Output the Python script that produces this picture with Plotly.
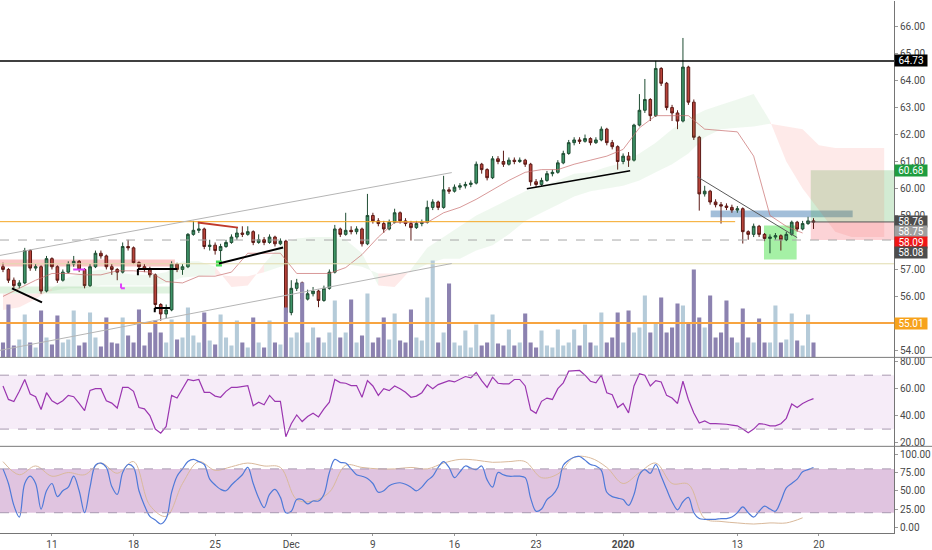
import plotly.graph_objects as go

# bars: 3 per trading session, index based x axis
close = [
    57.0, 56.6, 56.4, 56.5, 57.7, 57.05, 57.1, 56.2, 57.4,
    57.1, 56.6, 56.9, 57.2, 57.3, 57.0, 56.4, 57.1, 57.6,
    57.5, 57.1, 57.0, 56.9, 57.85, 57.8, 57.25, 57.1, 57.0,
    56.8, 55.7, 55.35, 55.5, 57.2, 57.0, 57.1, 58.3, 58.45,
    58.5, 57.85, 57.9, 57.7, 57.85, 58.0, 58.2, 58.35, 58.3,
    58.4, 58.0, 58.1, 58.0, 58.2, 57.95, 58.05, 55.4, 56.3,
    56.5, 55.9, 56.1, 56.2, 55.85, 56.3, 56.9, 58.5, 58.3,
    58.45, 58.4, 58.5, 57.95, 59.0, 58.8, 58.7, 58.5, 58.75,
    59.1, 58.8, 58.7, 58.55, 58.7, 58.75, 59.3, 59.5, 59.3,
    59.95, 59.9, 60.05, 60.1, 60.15, 60.2, 60.9, 60.7, 60.4,
    61.1, 61.0, 60.9, 61.05, 61.0, 61.05, 60.9, 60.25, 60.15,
    60.3, 60.55, 60.6, 60.95, 61.3, 61.7, 61.8, 61.75, 61.85,
    61.7, 61.8, 62.2, 61.7, 61.55, 61.0, 61.2, 61.05, 62.35,
    62.9, 63.3, 62.7, 64.45, 63.9, 63.0, 62.8, 62.5, 64.5,
    63.2, 61.9, 59.8, 59.9, 59.5, 59.4, 59.35, 59.3, 59.2,
    59.25, 58.4, 58.3, 58.6, 58.3, 58.15, 58.2, 58.25, 58.1,
    58.3, 58.75, 58.5, 58.7, 58.8, 58.76,
]
high = [
    57.25, 57.05, 56.7, 56.6, 57.8, 57.75, 57.2, 57.15, 57.5,
    57.45, 57.15, 57.0, 57.3, 57.5, 57.35, 57.05, 57.2, 57.7,
    57.7, 57.55, 57.2, 57.05, 58.0, 58.1, 57.85, 57.3, 57.2,
    57.1, 56.85, 55.75, 55.7, 57.3, 57.25, 57.2, 58.35, 58.8,
    58.75, 58.55, 58.1, 58.0, 57.95, 58.1, 58.3, 58.55, 58.6,
    58.6, 58.45, 58.3, 58.2, 58.3, 58.25, 58.15, 58.1, 56.6,
    56.65, 56.55, 56.25, 56.35, 56.25, 56.4, 57.0, 58.65, 58.55,
    59.1, 58.6, 58.6, 58.55, 59.8, 59.1, 58.9, 58.8, 58.85,
    59.25, 59.15, 58.9, 58.8, 58.8, 58.85, 59.55, 59.6, 59.55,
    60.47, 60.05, 60.15, 60.2, 60.25, 60.3, 61.0, 60.95, 60.75,
    61.2, 61.2, 61.4, 61.15, 61.15, 61.15, 61.1, 60.95, 60.35,
    60.4, 60.65, 60.7, 61.05, 61.4, 61.8, 61.9, 61.9, 62.0,
    61.9, 61.9, 62.3, 62.25, 61.8, 61.6, 61.3, 61.35, 62.4,
    63.5, 64.06, 63.35, 64.73, 64.5, 63.95, 63.1, 62.9, 65.58,
    64.55, 63.3, 61.95, 60.1, 59.95, 59.6, 59.5, 59.45, 59.4,
    59.35, 59.3, 58.45, 58.7, 58.65, 58.35, 58.3, 58.35, 58.3,
    58.4, 58.81, 58.8, 58.8, 58.95, 58.9,
]
low = [
    56.9, 56.5, 56.3, 56.3, 56.45, 56.95, 56.95, 56.1, 56.15,
    57.0, 56.5, 56.55, 56.85, 57.1, 56.9, 56.3, 56.35, 57.05,
    57.4, 57.0, 56.8, 56.6, 56.85, 57.7, 57.2, 57.0, 56.9,
    56.7, 55.5, 55.1, 55.2, 55.45, 56.9, 56.8, 57.05, 58.25,
    58.35, 57.75, 57.7, 57.55, 57.27, 57.8, 57.95, 58.1, 58.2,
    58.25, 57.9, 57.95, 57.9, 57.95, 57.85, 57.9, 55.2, 55.3,
    56.2, 55.8, 55.85, 56.0, 55.6, 55.8, 56.25, 56.85, 58.2,
    58.25, 58.3, 58.3, 57.85, 57.9, 58.7, 58.6, 58.35, 58.45,
    58.7, 58.7, 58.6, 58.07, 58.5, 58.6, 58.7, 59.2, 59.2,
    59.25, 59.8, 59.85, 59.95, 60.0, 60.05, 60.15, 60.55, 60.3,
    60.35, 60.9, 60.8, 60.85, 60.9, 60.95, 60.8, 60.1, 60.05,
    60.1, 60.25, 60.45, 60.55, 60.9, 61.25, 61.6, 61.65, 61.7,
    61.6, 61.65, 61.75, 61.6, 61.45, 60.7, 60.9, 60.8, 61.0,
    62.3, 62.8, 62.5, 62.65, 63.8, 62.9, 62.5, 62.2, 62.45,
    63.1, 61.8, 59.18, 59.7, 59.4, 59.3, 58.7, 59.2, 59.1,
    59.1, 57.96, 58.1, 58.2, 58.2, 58.05, 57.6, 58.1, 57.7,
    58.05, 58.25, 58.4, 58.45, 58.65, 58.5,
]
open_ = [57.1] + close[:-1]

volume = [
    30, 106, 24, 36, 86, 30, 20, 94, 40, 26, 84, 30, 36, 94, 24, 30, 90, 40,
    22, 80, 30, 28, 80, 44, 30, 96, 24, 50, 74, 50, 30, 76, 36, 40, 100, 44,
    30, 90, 34, 26, 86, 40, 24, 74, 30, 20, 80, 30, 20, 74, 30, 26, 100, 40,
    50, 150, 30, 60, 40, 30, 50, 114, 40, 50, 116, 30, 44, 128, 30, 40, 80, 36,
    88, 34, 30, 96, 40, 34, 120, 194, 30, 50, 148, 30, 24, 54, 20, 66, 24, 30,
    86, 28, 24, 56, 24, 30, 88, 30, 20, 54, 24, 20, 56, 24, 30, 56, 24, 66,
    30, 24, 90, 30, 40, 90, 30, 94, 50, 60, 124, 50, 70, 120, 50, 60, 108, 104,
    70, 176, 80, 60, 124, 40, 50, 114, 40, 30, 98, 40, 30, 78, 30, 30, 104, 30,
    36, 88, 34, 24, 86, 30,
]

rsi = [
    62, 52, 50.5, 58, 66.8, 56, 54, 44.5, 57, 51, 48.6, 51, 55, 54, 49, 43.7,
    58.7, 60, 60, 51, 49.3, 45.6, 61, 61, 58, 46, 45, 40, 30, 27, 32, 55,
    53, 60, 66.8, 66, 66.8, 57.3, 57.3, 54.5, 53.6, 58, 61, 61, 61.5, 62.3, 47.3, 50,
    48, 55, 50.6, 50.6, 24.3, 34, 40.5, 35.6, 39.3, 41.7, 39, 45, 50, 66.8, 64.5, 64,
    62.3, 62.3, 53.6, 66, 62, 55, 60, 58.5, 62, 60, 57.3, 53.6, 54.5, 57, 63, 60,
    63, 64.3, 66, 65, 67, 69, 68, 72, 66, 61, 68.5, 64, 63.5, 63.5, 66.8, 66.8,
    62, 44.3, 41.7, 50.6, 53, 52, 60, 64.3, 73, 73.5, 73.5, 70, 65.5, 64.3, 70, 57,
    55.5, 46, 49, 42, 62, 71, 70, 62, 66, 65, 55, 53, 49, 65.5, 52, 42,
    34.5, 36, 34, 34, 34, 33.6, 33, 32.4, 30, 27.3, 30, 34, 33.6, 32.4, 32.4, 34,
    38, 48.6, 46, 49, 51, 52.6,
]

stoch_k = [
    80, 60, 30, 14, 60, 70, 60, 25, 50, 60, 42, 50, 55, 70, 50, 20,
    55, 85, 88, 82, 56, 45, 75, 86, 82, 50, 30, 15, 10, 4.5, 12, 48,
    70, 80, 90, 93, 90, 86, 66, 58, 52, 50, 58, 65, 72, 82, 60, 40,
    27, 45, 52, 41, 20, 22, 38, 38, 32, 36, 36, 45, 75, 93, 89, 88,
    80, 72, 70, 67, 60, 48, 50, 57, 60, 61, 59, 55, 50, 55, 64, 70,
    82, 90, 82, 68, 76, 84, 81, 79, 84, 65, 55, 75, 72, 70, 70, 70,
    68, 40, 22, 25, 38, 44, 55, 85, 92, 96, 97, 92, 86, 84, 78, 48,
    42, 40, 38, 30, 45, 72, 79, 74, 86, 70, 52, 35, 24, 35, 41, 20,
    12, 11, 11, 11, 12, 12, 14, 20, 28, 20, 14, 22, 29, 25, 22, 36,
    54, 60, 66, 76, 79, 82,
]
# smoother lines, one value per session
session_x = list(range(0, 150, 3))
stoch_d = [
    90, 72, 84, 70, 75, 72, 88, 74, 90, 30, 15, 60, 90, 78, 83, 88, 84,
    82, 38, 36, 48, 85, 82, 80, 80, 82, 80, 88, 93, 92, 89, 90, 90, 68,
    73, 96, 95, 82, 60, 75, 88, 60, 59, 12, 8, 6, 4.5, 6, 6, 13,
]
kijun = [
    56.0, 56.3, 56.6, 56.85, 56.85, 56.8, 56.8, 56.95, 56.95, 56.9,
    56.55, 56.5, 56.75, 56.75, 56.9, 57.6, 57.6, 57.6, 56.85, 56.85,
    56.85, 57.07, 57.55, 58.2, 58.74, 58.74, 58.74, 59.1, 59.3, 59.6,
    59.95, 60.3, 60.6, 60.7, 60.7, 60.9, 61.05, 61.2, 61.45, 62.25,
    62.7, 62.7, 62.7, 62.2, 62.15, 62.1, 61.2, 59.0, 58.6, 58.35,
]

# ichimoku cloud (already displaced forward)
cloud_x = list(range(0, 163, 3))
span_a = [
    55.5, 55.6, 55.9, 56.3, 56.7, 56.9, 57.0, 56.9, 56.8, 56.8, 56.9,
    57.3, 57.3, 57.1, 56.35, 56.4, 57.2, 57.9, 58.15, 58.2, 58.2, 58.1,
    57.6, 56.4, 56.35, 57.0, 57.8, 58.2, 58.6, 59.0, 59.3, 59.6, 59.9,
    60.1, 60.3, 60.55, 60.6, 60.8, 60.95, 61.3, 61.7, 62.2, 62.6, 62.9,
    63.1, 63.3, 63.5, 62.5, 61.0, 60.0, 59.2, 58.4, 58.2, 58.2, 58.2,
]
span_b = [
    56.1, 56.1, 56.1, 56.2, 56.3, 56.3, 56.4, 56.4, 56.4, 56.4, 56.5,
    56.7, 56.75, 56.8, 56.75, 56.75, 56.9, 57.1, 57.2, 57.2, 57.2, 57.2,
    57.1, 56.85, 56.85, 56.9, 57.2, 57.4, 57.4, 57.7, 57.9, 58.3, 58.8,
    59.1, 59.4, 59.7, 59.9, 60.0, 60.1, 60.3, 60.6, 60.9, 61.3, 61.9,
    62.2, 62.25, 62.3, 62.4, 62.3, 62.2, 61.6, 61.5, 61.5, 61.5, 61.5,
]

tick_pos = [9, 24, 39, 53, 68, 83, 98, 114, 135, 150]
tick_text = ["11", "18", "25", "Dec", "9", "16", "23", "<b>2020</b>", "13", "20"]
price_ticks = [54, 56, 57, 59, 60, 61, 62, 63, 64, 65, 66]

label_text = ["64.73", "60.68", "58.76", "58.75", "58.09", "58.08", "55.01"]
label_pos = [64.73, 60.68, 58.77, 58.39, 58.0, 57.61, 55.01]
label_bg = ["#000000", "#1f9d3f", "#4d4d4d", "#a0a0a0", "#f01616", "#4d4d4d", "#f7a21b"]

X_RANGE = [-0.55, 163.8]
MAIN_DOM = [0.3301, 1.0]
RSI_DOM = [0.1629, 0.3301]
STOCH_DOM = [0.0, 0.1629]
idx = list(range(len(close)))

fig = go.Figure()

# cloud, one polygon per interval
green_x, green_y, red_x, red_y = [], [], [], []
for k in range(len(cloud_x) - 1):
    px = [cloud_x[k], cloud_x[k + 1], cloud_x[k + 1], cloud_x[k], cloud_x[k], None]
    py = [span_a[k], span_a[k + 1], span_b[k + 1], span_b[k], span_a[k], None]
    if span_a[k] + span_a[k + 1] >= span_b[k] + span_b[k + 1]:
        green_x += px
        green_y += py
    else:
        red_x += px
        red_y += py
fig.add_trace(go.Scatter(x=green_x, y=green_y, fill="toself", mode="none",
                         fillcolor="rgba(76,175,80,0.09)", hoverinfo="skip"))
fig.add_trace(go.Scatter(x=red_x, y=red_y, fill="toself", mode="none",
                         fillcolor="rgba(244,67,54,0.11)", hoverinfo="skip"))

fig.add_trace(go.Scatter(x=session_x, y=kijun, mode="lines",
                         line=dict(color="rgba(200,110,110,0.7)", width=1)))

fig.add_trace(go.Candlestick(
    x=idx, open=open_, high=high, low=low, close=close,
    increasing=dict(line=dict(color="#1f4d33", width=1), fillcolor="#3e9468"),
    decreasing=dict(line=dict(color="#5c1a16", width=1), fillcolor="#b8433a"),
    whiskerwidth=0,
))

vol_colors = ["#b5cbd9" if c >= o else "#8c82b0" for o, c in zip(open_, close)]
fig.add_trace(go.Bar(x=idx, y=volume, yaxis="y4", marker_color=vol_colors,
                     marker_line_width=0, width=0.75))

# RSI
fig.add_trace(go.Scatter(x=idx, y=rsi, xaxis="x2", yaxis="y2", mode="lines",
                         line=dict(color="#9b36b0", width=1.2)))
# Stoch RSI
fig.add_trace(go.Scatter(x=session_x, y=stoch_d, xaxis="x3", yaxis="y3", mode="lines",
                         line=dict(color="#d9b99b", width=1, shape="spline")))
fig.add_trace(go.Scatter(x=idx, y=stoch_k, xaxis="x3", yaxis="y3", mode="lines",
                         line=dict(color="#4f7ad8", width=1.2, shape="spline")))

# pattern markers
fig.add_trace(go.Scatter(x=[39.7], y=[57.22], mode="markers",
                         marker=dict(symbol="square", size=6, color="#44dd55")))


def hline(y, color, width=1, dash="solid", x0=0, x1=1, xref="paper"):
    fig.add_shape(type="line", xref=xref, yref="y", x0=x0, x1=x1, y0=y, y1=y,
                  line=dict(color=color, width=width, dash=dash))


def seg(x0, y0, x1, y1, color, width=1):
    fig.add_shape(type="line", xref="x", yref="y", x0=x0, y0=y0, x1=x1, y1=y1,
                  line=dict(color=color, width=width))


def box(x0, x1, y0, y1, color):
    fig.add_shape(type="rect", xref="x", yref="y", x0=x0, x1=x1, y0=y0, y1=y1,
                  fillcolor=color, line_width=0, layer="below")


# zones
box(-0.55, 31.6, 57.11, 57.37, "rgba(239,83,80,0.33)")
box(-0.55, 30.7, 56.11, 56.37, "rgba(110,195,110,0.22)")
box(130.1, 156.2, 58.93, 59.18, "rgba(70,125,180,0.5)")
box(139.9, 145.9, 57.37, 58.63, "rgba(40,220,40,0.42)")
# long position tool
box(148.5, 164.5, 58.76, 60.68, "rgba(76,175,80,0.25)")
box(148.5, 164.5, 58.09, 58.76, "rgba(242,54,69,0.22)")

# horizontal levels
hline(64.73, "#000000", 1.5)
hline(58.77, "#f5a623", 1, x0=-0.55, x1=134.6, xref="x")
hline(58.76, "#555555", 1, x0=148.0, x1=164.5, xref="x")
hline(58.09, "#a8a8a8", 1, dash="dash")
hline(57.21, "#e2dcae", 1)
hline(55.01, "#f7a440", 2)

# channel
seg(-0.55, 57.52, 82.5, 60.59, "#b5b5b5")
seg(-0.55, 54.0, 82.5, 57.22, "#b5b5b5")
# trend lines
seg(1.65, 56.3, 7.17, 55.78, "#000000", 2)
seg(24.8, 56.78, 24.8, 57.02, "#000000", 2)
seg(24.8, 57.02, 32.0, 57.02, "#000000", 2)
seg(27.9, 55.41, 27.9, 55.57, "#000000", 2)
seg(27.9, 55.57, 30.7, 55.57, "#000000", 2)
seg(35.8, 58.74, 43.2, 58.55, "#c0392b", 2)
seg(39.7, 57.22, 51.5, 57.81, "#000000", 2)
seg(96.3, 59.99, 115.3, 60.66, "#000000", 1.5)
seg(127.6, 60.44, 146.0, 58.18, "#5a5a5a", 1)
seg(12.9, 57.0, 15.1, 57.0, "#e040fb", 2)
seg(21.7, 56.3, 21.7, 56.48, "#e040fb", 2)
seg(21.7, 56.3, 22.4, 56.3, "#e040fb", 2)

# indicator bands
fig.add_shape(type="rect", xref="paper", yref="y2", x0=0, x1=1, y0=30, y1=70,
              fillcolor="rgba(156,39,176,0.09)", line_width=0, layer="below")
fig.add_shape(type="rect", xref="paper", yref="y3", x0=0, x1=1, y0=20, y1=80,
              fillcolor="rgba(153,61,153,0.3)", line_width=0, layer="below")
for yy, ref in [(30, "y2"), (70, "y2"), (20, "y3"), (80, "y3")]:
    fig.add_shape(type="line", xref="paper", yref=ref, x0=0, x1=1, y0=yy, y1=yy,
                  line=dict(color="#a898b0", width=1, dash="dash"))

# pane separators
for yp in [MAIN_DOM[0], RSI_DOM[0]]:
    fig.add_shape(type="line", xref="paper", yref="paper", x0=0, x1=1.05, y0=yp, y1=yp,
                  line=dict(color="#7a7a7a", width=1))

for t, p, c in zip(label_text, label_pos, label_bg):
    fig.add_annotation(x=1, xref="paper", y=p, yref="y", xanchor="left", text=t,
                       showarrow=False, bgcolor=c, width=32, borderpad=0,
                       font=dict(color="white", size=10, family="Roboto"))

tickfont = dict(size=10, color="#4a4a4a", family="Roboto")
yax = dict(side="right", showgrid=False, zeroline=False, showline=True,
           linecolor="#757575", ticks="outside", ticklen=3, tickcolor="#999999",
           tickformat=".2f", tickfont=tickfont)
xax = dict(range=X_RANGE, showgrid=False, zeroline=False, showticklabels=False)

fig.update_layout(
    width=932, height=550,
    margin=dict(l=0, r=38, t=0, b=16),
    paper_bgcolor="white", plot_bgcolor="white",
    showlegend=False, hovermode=False,
    xaxis=dict(xax, anchor="y", rangeslider=dict(visible=False)),
    xaxis2=dict(xax, anchor="y2"),
    xaxis3=dict(xax, anchor="y3", showticklabels=True, tickvals=tick_pos, ticktext=tick_text,
                tickfont=tickfont, showline=True, linecolor="#757575",
                ticks="outside", ticklen=2, tickcolor="#999999"),
    yaxis=dict(yax, anchor="x", domain=MAIN_DOM, range=[53.74, 66.95], tickvals=price_ticks),
    yaxis2=dict(yax, anchor="x2", domain=RSI_DOM, range=[17.2, 83.2], tickvals=[20, 40, 60, 80]),
    yaxis3=dict(yax, anchor="x3", domain=STOCH_DOM, range=[-7.8, 110.9],
                tickvals=[0, 25, 50, 75, 100]),
    yaxis4=dict(overlaying="y", anchor="x", range=[0, 714], visible=False),
)

fig.write_html("out.html", config={"displayModeBar": False},
               post_script="document.body.style.margin='0';")
